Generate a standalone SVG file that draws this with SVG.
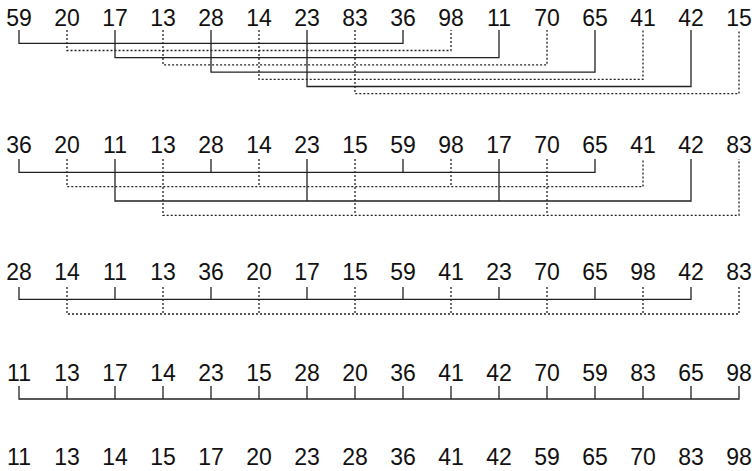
<svg xmlns="http://www.w3.org/2000/svg" width="752" height="471" viewBox="0 0 752 471">
<style>
text{font-family:"Liberation Sans",Arial,sans-serif;font-size:23px;fill:#111;text-anchor:middle}
.s{fill:none;stroke:#222;stroke-width:1.3}
.d{fill:none;stroke:#222;stroke-width:1.3;stroke-dasharray:2 2}
</style>
<rect width="752" height="471" fill="#fff"/>
<g id="connectors">
<path class="s" d="M19 30V43.3H403V30"/>
<path class="d" d="M67 30V50.5H451V30"/>
<path class="s" d="M115 30V57.7H499V30"/>
<path class="d" d="M163 30V64.9H547V30"/>
<path class="s" d="M211 30V72.1H595V30"/>
<path class="d" d="M259 30V79.3H643V30"/>
<path class="s" d="M307 30V86.5H691V30"/>
<path class="d" d="M355 30V93.7H739V30"/>
<path class="s" d="M19 159V172.3H595V159M211 159V172.3M403 159V172.3"/>
<path class="d" d="M67 159V186.7H643V159M259 159V186.7M451 159V186.7"/>
<path class="s" d="M115 159V201H691V159M307 159V201M499 159V201"/>
<path class="d" d="M163 159V215.3H739V159M355 159V215.3M547 159V215.3"/>
<path class="s" d="M19 287V299.3H691V287M115 287V299.3M211 287V299.3M307 287V299.3M403 287V299.3M499 287V299.3M595 287V299.3"/>
<path class="d" d="M67 287V314H739V287M163 287V314M259 287V314M355 287V314M451 287V314M547 287V314M643 287V314"/>
<path class="s" d="M19 386V399H739V386M67 386V399M115 386V399M163 386V399M211 386V399M259 386V399M307 386V399M355 386V399M403 386V399M451 386V399M499 386V399M547 386V399M595 386V399M643 386V399M691 386V399"/>
</g>
<g id="row1">
<g id="r1n0"><text x="19" y="25.5">59</text></g>
<g id="r1n1"><text x="67" y="25.5">20</text></g>
<g id="r1n2"><text x="115" y="25.5">17</text></g>
<g id="r1n3"><text x="163" y="25.5">13</text></g>
<g id="r1n4"><text x="211" y="25.5">28</text></g>
<g id="r1n5"><text x="259" y="25.5">14</text></g>
<g id="r1n6"><text x="307" y="25.5">23</text></g>
<g id="r1n7"><text x="355" y="25.5">83</text></g>
<g id="r1n8"><text x="403" y="25.5">36</text></g>
<g id="r1n9"><text x="451" y="25.5">98</text></g>
<g id="r1n10"><text x="499" y="25.5">11</text></g>
<g id="r1n11"><text x="547" y="25.5">70</text></g>
<g id="r1n12"><text x="595" y="25.5">65</text></g>
<g id="r1n13"><text x="643" y="25.5">41</text></g>
<g id="r1n14"><text x="691" y="25.5">42</text></g>
<g id="r1n15"><text x="739" y="25.5">15</text></g>
</g>
<g id="row2">
<g id="r2n0"><text x="19" y="153">36</text></g>
<g id="r2n1"><text x="67" y="153">20</text></g>
<g id="r2n2"><text x="115" y="153">11</text></g>
<g id="r2n3"><text x="163" y="153">13</text></g>
<g id="r2n4"><text x="211" y="153">28</text></g>
<g id="r2n5"><text x="259" y="153">14</text></g>
<g id="r2n6"><text x="307" y="153">23</text></g>
<g id="r2n7"><text x="355" y="153">15</text></g>
<g id="r2n8"><text x="403" y="153">59</text></g>
<g id="r2n9"><text x="451" y="153">98</text></g>
<g id="r2n10"><text x="499" y="153">17</text></g>
<g id="r2n11"><text x="547" y="153">70</text></g>
<g id="r2n12"><text x="595" y="153">65</text></g>
<g id="r2n13"><text x="643" y="153">41</text></g>
<g id="r2n14"><text x="691" y="153">42</text></g>
<g id="r2n15"><text x="739" y="153">83</text></g>
</g>
<g id="row3">
<g id="r3n0"><text x="19" y="280">28</text></g>
<g id="r3n1"><text x="67" y="280">14</text></g>
<g id="r3n2"><text x="115" y="280">11</text></g>
<g id="r3n3"><text x="163" y="280">13</text></g>
<g id="r3n4"><text x="211" y="280">36</text></g>
<g id="r3n5"><text x="259" y="280">20</text></g>
<g id="r3n6"><text x="307" y="280">17</text></g>
<g id="r3n7"><text x="355" y="280">15</text></g>
<g id="r3n8"><text x="403" y="280">59</text></g>
<g id="r3n9"><text x="451" y="280">41</text></g>
<g id="r3n10"><text x="499" y="280">23</text></g>
<g id="r3n11"><text x="547" y="280">70</text></g>
<g id="r3n12"><text x="595" y="280">65</text></g>
<g id="r3n13"><text x="643" y="280">98</text></g>
<g id="r3n14"><text x="691" y="280">42</text></g>
<g id="r3n15"><text x="739" y="280">83</text></g>
</g>
<g id="row4">
<g id="r4n0"><text x="19" y="380.5">11</text></g>
<g id="r4n1"><text x="67" y="380.5">13</text></g>
<g id="r4n2"><text x="115" y="380.5">17</text></g>
<g id="r4n3"><text x="163" y="380.5">14</text></g>
<g id="r4n4"><text x="211" y="380.5">23</text></g>
<g id="r4n5"><text x="259" y="380.5">15</text></g>
<g id="r4n6"><text x="307" y="380.5">28</text></g>
<g id="r4n7"><text x="355" y="380.5">20</text></g>
<g id="r4n8"><text x="403" y="380.5">36</text></g>
<g id="r4n9"><text x="451" y="380.5">41</text></g>
<g id="r4n10"><text x="499" y="380.5">42</text></g>
<g id="r4n11"><text x="547" y="380.5">70</text></g>
<g id="r4n12"><text x="595" y="380.5">59</text></g>
<g id="r4n13"><text x="643" y="380.5">83</text></g>
<g id="r4n14"><text x="691" y="380.5">65</text></g>
<g id="r4n15"><text x="739" y="380.5">98</text></g>
</g>
<g id="row5">
<g id="r5n0"><text x="19" y="465">11</text></g>
<g id="r5n1"><text x="67" y="465">13</text></g>
<g id="r5n2"><text x="115" y="465">14</text></g>
<g id="r5n3"><text x="163" y="465">15</text></g>
<g id="r5n4"><text x="211" y="465">17</text></g>
<g id="r5n5"><text x="259" y="465">20</text></g>
<g id="r5n6"><text x="307" y="465">23</text></g>
<g id="r5n7"><text x="355" y="465">28</text></g>
<g id="r5n8"><text x="403" y="465">36</text></g>
<g id="r5n9"><text x="451" y="465">41</text></g>
<g id="r5n10"><text x="499" y="465">42</text></g>
<g id="r5n11"><text x="547" y="465">59</text></g>
<g id="r5n12"><text x="595" y="465">65</text></g>
<g id="r5n13"><text x="643" y="465">70</text></g>
<g id="r5n14"><text x="691" y="465">83</text></g>
<g id="r5n15"><text x="739" y="465">98</text></g>
</g>
</svg>
